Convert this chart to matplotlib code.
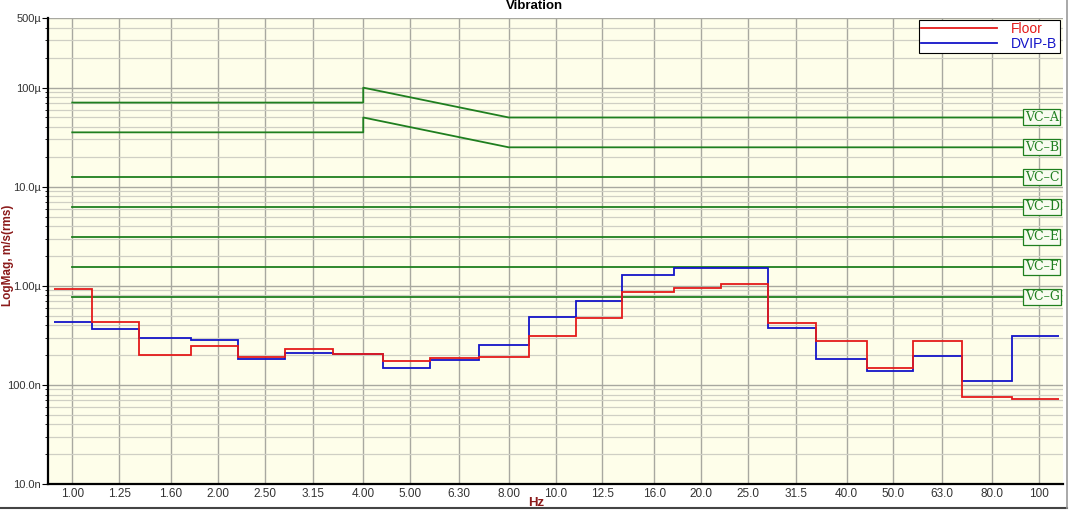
import numpy as np
import matplotlib.pyplot as plt
from matplotlib.lines import Line2D
from matplotlib.ticker import FixedLocator, LogLocator, NullFormatter

plt.rcParams['font.family'] = ['Liberation Sans', 'DejaVu Sans']

# 1/3 octave bands, Hz
bands = [1.00, 1.25, 1.60, 2.00, 2.50, 3.15, 4.00, 5.00, 6.30, 8.00, 10.0,
         12.5, 16.0, 20.0, 25.0, 31.5, 40.0, 50.0, 63.0, 80.0, 100.0]
band_labels = ['1.00', '1.25', '1.60', '2.00', '2.50', '3.15', '4.00', '5.00',
               '6.30', '8.00', '10.0', '12.5', '16.0', '20.0', '25.0', '31.5',
               '40.0', '50.0', '63.0', '80.0', '100']

# velocity, m/s rms (values in micro)
floor = [0.92, 0.434, 0.200, 0.245, 0.191, 0.229, 0.205, 0.174, 0.187, 0.190,
         0.313, 0.476, 0.857, 0.960, 1.05, 0.421, 0.279, 0.148, 0.279, 0.0755, 0.0726]
dvip_b = [0.434, 0.369, 0.299, 0.282, 0.184, 0.208, 0.203, 0.147, 0.178, 0.252,
          0.480, 0.706, 1.29, 1.51, 1.52, 0.377, 0.184, 0.138, 0.195, 0.109, 0.309]

# VC criteria, micro m/s
vc_names = ['VC\u2013A', 'VC\u2013B', 'VC\u2013C', 'VC\u2013D', 'VC\u2013E', 'VC\u2013F', 'VC\u2013G']
vc_levels = [50, 25, 12.5, 6.25, 3.12, 1.56, 0.78]
vc_low = [70.7, 35.4]      # below 4 Hz for A/B
vc_peak = [100, 50]        # at 4 Hz for A/B

u = 1e-6
red = '#e41a1a'
blue = '#1414c8'
green = '#1f7f1f'

fig = plt.figure(figsize=(10.69, 5.11), dpi=100)
ax = fig.add_axes([0.0449, 0.0528, 0.9496, 0.9112])
ax.set_facecolor('#fefeea')

ax.set_xscale('log')
ax.set_yscale('log')
ax.set_xlim(0.891, 112.2)
ax.set_ylim(10e-9, 500e-6)

edges = np.concatenate([[bands[0] / 1.09], np.array(bands) * 1.10])
ax.stairs(np.array(floor) * u, edges, baseline=None, color=red, lw=1.3, zorder=4)
ax.stairs(np.array(dvip_b) * u, edges, baseline=None, color=blue, lw=1.3, zorder=3)

f_end = 93.5
for i, (name, lvl) in enumerate(zip(vc_names, vc_levels)):
    if i < 2:
        fx = [bands[0], 4.0, 4.0, 8.0, f_end]
        fy = [vc_low[i], vc_low[i], vc_peak[i], lvl, lvl]
    else:
        fx = [bands[0], f_end]
        fy = [lvl, lvl]
    ax.plot(fx, np.array(fy) * u, color=green, lw=1.3, zorder=2)
    ax.text(f_end, lvl * u, name, color=green, fontsize=9, family='DejaVu Serif',
            ha='left', va='center', zorder=5,
            bbox=dict(boxstyle='square,pad=0.12', fc='#f8fcf0', ec=green, lw=0.9))

# grid and ticks
ax.xaxis.set_major_locator(FixedLocator(bands))
ax.xaxis.set_minor_locator(FixedLocator([]))
ax.set_xticklabels(band_labels)
ax.yaxis.set_major_locator(FixedLocator([10e-9, 100e-9, 1e-6, 10e-6, 100e-6, 500e-6]))
ax.set_yticklabels(['10.0n', '100.0n', '1.00\u00b5', '10.0\u00b5', '100\u00b5', '500\u00b5'])
ax.yaxis.set_minor_locator(LogLocator(base=10, subs=np.arange(2, 10)))
ax.yaxis.set_minor_formatter(NullFormatter())
ax.grid(True, which='major', axis='both', color='#a8a8a0', lw=1.0)
ax.grid(True, which='minor', axis='y', color='#cfcfc4', lw=0.9)
ax.tick_params(axis='x', length=0, labelsize=8.5, labelcolor='#333333', pad=3)
ax.tick_params(axis='y', which='major', length=4, labelsize=8, labelcolor='#333333', pad=1)
ax.tick_params(axis='y', which='minor', length=2.5)

for s in ['top', 'right']:
    ax.spines[s].set_visible(False)
for s in ['left', 'bottom']:
    ax.spines[s].set_linewidth(1.6)

fig.text(0.5, 1 - 6 / 511, 'Vibration', fontsize=9.5, fontweight='bold',
         ha='center', va='center')
ax.set_xlabel('Hz', color='#8b1a1a', fontsize=9.5, fontweight='bold')
ax.xaxis.set_label_coords(0.481, -0.041)
ax.xaxis.label.set_va('center')
ax.set_ylabel('LogMag, m/s(rms)', color='#8b1a1a', fontsize=8.5, fontweight='bold')
ax.yaxis.set_label_coords(-0.0394, 0.491)
ax.yaxis.label.set_va('center')

handles = [Line2D([], [], color=red, lw=1.3), Line2D([], [], color=blue, lw=1.3)]
leg = ax.legend(handles, ['Floor', 'DVIP-B'], loc='upper right', fontsize=10,
                frameon=True, fancybox=False, framealpha=1, edgecolor='black',
                handlelength=5.5, borderpad=0.15, labelspacing=0.05,
                handletextpad=1.0, borderaxespad=0.0, bbox_to_anchor=(0.9965, 0.997))
leg.get_frame().set_linewidth(0.8)
leg.set_zorder(6)
for t, c in zip(leg.get_texts(), [red, blue]):
    t.set_color(c)

# outer frame
fig.add_artist(Line2D([0, 0.998], [0.005, 0.005], color='#444444', lw=1.5))
fig.add_artist(Line2D([0.998, 0.998], [0.005, 1.0], color='#999999', lw=1.2))

fig.savefig('out.png', dpi=100)
